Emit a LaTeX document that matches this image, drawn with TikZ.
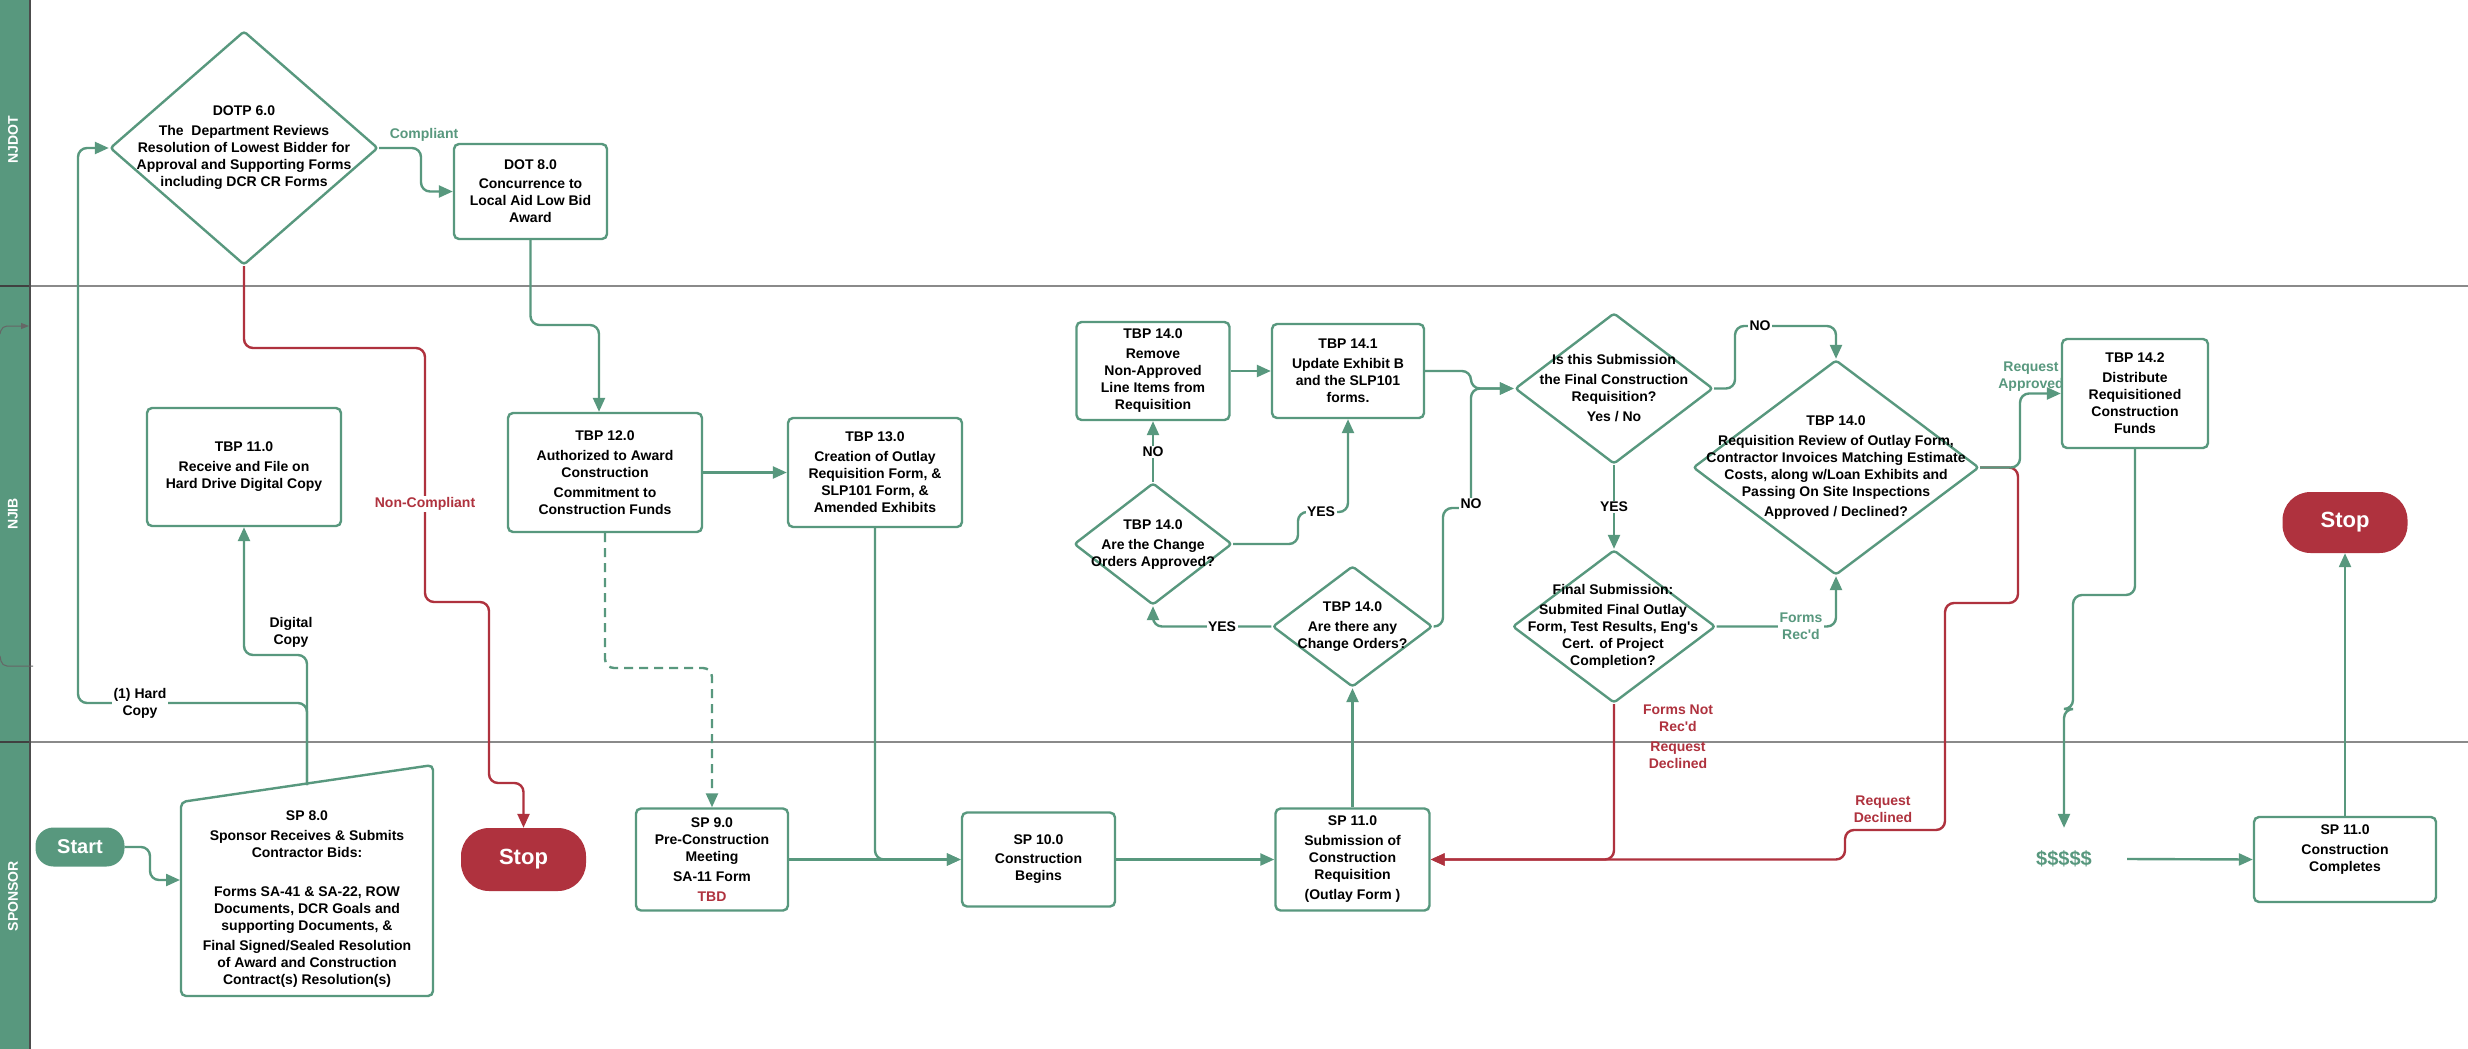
\documentclass[tikz,border=0pt]{standalone}
\usepackage{fontspec}
\setmainfont{Liberation Sans}
\usetikzlibrary{shapes.geometric,arrows.meta,calc}
\definecolor{lgreen}{HTML}{58987E}
\definecolor{lred}{HTML}{AF323E}
\definecolor{lgray}{HTML}{8A8A8A}
\newcommand{\apos}{\textquotesingle}
\begin{document}
\begin{tikzpicture}[x=1pt,y=-1pt,
  font=\fontsize{14}{17}\selectfont\bfseries,
  box/.style={draw=lgreen, line width=2.4pt, rounded corners=5pt, fill=white, align=center, inner sep=0pt, text=black},
  dia/.style={draw=lgreen, line width=2.4pt, diamond, rounded corners=3pt, inner sep=0pt, fill=white},
  txt/.style={align=center, inner sep=0pt, text=black},
  conn/.style={draw=lgreen, line width=2.4pt, rounded corners=9pt, -{Triangle[length=14pt,width=12pt]}},
  rconn/.style={draw=lred, line width=2.4pt, rounded corners=9pt, -{Triangle[length=14pt,width=12pt]}},
  lbl/.style={fill=white, inner sep=1.5pt, align=center, text=black},
  glbl/.style={inner sep=1.5pt, align=center, text=lgreen},
  rlbl/.style={inner sep=1.5pt, align=center, text=lred},
  lanelbl/.style={rotate=90, text=white, inner sep=0pt}]
\useasboundingbox (0,0) rectangle (2468,1049);
\fill[white] (0,0) rectangle (2468,1049);
% swimlanes
\fill[lgreen] (0,0) rectangle (30,1049);
\draw[lgray, line width=2pt] (0,286) -- (2468,286);
\draw[lgray, line width=2pt] (0,742) -- (2468,742);
\draw[black!75, line width=2pt] (0,286) -- (30,286);
\draw[black!75, line width=2pt] (0,742) -- (30,742);
\draw[black!70, line width=1.2pt] (30,0) -- (30,1049);
\node[lanelbl] (lane1) at (13,140) {NJDOT};
\node[lanelbl] (lane2) at (13,514) {NJIB};
\node[lanelbl] (lane3) at (13,896) {SPONSOR};
\coordinate (a1s) at (0,334);
\coordinate (a1e) at (29,326);
\draw[black!60, line width=1pt, rounded corners=5pt, -{Triangle[length=8pt,width=6pt]}] (a1s) -- (2,326) -- (a1e);
\coordinate (a2s) at (0,656);
\coordinate (a2e) at (33,666);
\draw[black!60, line width=1pt, rounded corners=5pt] (a2s) -- (2,666) -- (a2e);

% shapes
\node[dia, minimum width=268pt, minimum height=234pt] (dotp) at (244,148) {};
\node[txt] (dotpT) at (244,147.5) {DOTP 6.0\\[3pt]The\ \ Department Reviews\\Resolution of Lowest Bidder for\\Approval and Supporting Forms\\including DCR CR Forms};
\node[box, minimum width=153pt, minimum height=95pt] (dot8) at (530.5,191.5) {DOT 8.0\\[2pt]Concurrence to\\Local Aid Low Bid\\Award};
\node[box, minimum width=194pt, minimum height=118pt] (tbp11) at (244,467) {TBP 11.0\\[3pt]Receive and File on\\Hard Drive Digital Copy};
\node[box, minimum width=194pt, minimum height=119pt] (tbp12) at (605,472.5) {TBP 12.0\\[3pt]Authorized to Award\\Construction\\[3pt]Commitment to\\Construction Funds};
\node[box, minimum width=174pt, minimum height=109pt] (tbp13) at (875,472.5) {TBP 13.0\\[3pt]Creation of Outlay\\Requisition Form, \&\\SLP101 Form, \&\\Amended Exhibits};
\node[box, minimum width=153pt, minimum height=98pt] (remove) at (1153,371) {TBP 14.0\\[3pt]Remove\\Non-Approved\\Line Items from\\Requisition};
\node[box, minimum width=152pt, minimum height=94pt] (update) at (1348,371) {TBP 14.1\\[3pt]Update Exhibit B\\and the SLP101\\forms.};
\node[dia, minimum width=158pt, minimum height=122pt] (appr) at (1153,544) {};
\node[txt] (apprT) at (1153,544.5) {TBP 14.0\\[3pt]Are the Change\\Orders Approved?};
\node[dia, minimum width=160pt, minimum height=121pt] (co) at (1352.5,626.5) {};
\node[txt] (coT) at (1352.5,626.5) {TBP 14.0\\[3pt]Are there any\\Change Orders?};
\node[dia, minimum width=198pt, minimum height=151pt] (fc) at (1614,388.5) {};
\node[txt] (fcT) at (1614,388.5) {Is this Submission\\[3pt]the Final Construction\\Requisition?\\[3pt]Yes / No};
\node[dia, minimum width=203pt, minimum height=153pt] (fs) at (1614,626.5) {};
\node[txt] (fsT) at (1613,626.5) {Final Submission:\\[3pt]Submited Final Outlay\\Form, Test Results, Eng\apos s\\Cert. of Project\\Completion?};
\node[dia, minimum width=286pt, minimum height=215pt] (rr) at (1836,467.5) {};
\node[txt] (rrT) at (1836,467.5) {TBP 14.0\\[3pt]Requisition Review of Outlay Form,\\Contractor Invoices Matching Estimate\\Costs, along w/Loan Exhibits and\\Passing On Site Inspections\\[3pt]Approved / Declined?};
\node[box, minimum width=146pt, minimum height=109pt] (tbp142) at (2135,393.5) {TBP 14.2\\[3pt]Distribute\\Requisitioned\\Construction\\Funds};
\node[fill=lred, rounded corners=28pt, minimum width=125pt, minimum height=61pt, inner sep=0pt, text=white, font=\fontsize{22}{26}\selectfont\bfseries] (stopR) at (2345,522.5) {Stop};

\node[fill=lgreen, rounded corners=18pt, minimum width=89pt, minimum height=39pt, inner sep=0pt, text=white, font=\fontsize{20}{24}\selectfont\bfseries] (start) at (80,847) {Start};
\draw[draw=lgreen, line width=2.4pt, rounded corners=5pt, fill=white] (181,802) -- (433,765) -- (433,996) -- (181,996) -- cycle;
\node[txt] (sp8) at (307,899) {SP 8.0\\[3pt]Sponsor Receives \& Submits\\Contractor Bids:\\[22pt]Forms SA-41 \& SA-22, ROW\\Documents, DCR Goals and\\supporting Documents, \&\\[3pt]Final Signed/Sealed Resolution\\of Award and Construction\\Contract(s) Resolution(s)};
\coordinate (sp8top) at (307,785);
\coordinate (sp8w) at (180,880);
\node[fill=lred, rounded corners=28pt, minimum width=125pt, minimum height=63pt, inner sep=0pt, text=white, font=\fontsize{22}{26}\selectfont\bfseries] (stopL) at (523.5,859.5) {Stop};
\node[box, minimum width=152pt, minimum height=102pt] (sp9) at (712,859.5) {SP 9.0\\Pre-Construction\\Meeting\\[3pt]SA-11 Form\\[3pt]\textcolor{lred}{TBD}};
\node[box, minimum width=153pt, minimum height=94pt] (sp10) at (1038.5,859.5) {SP 10.0\\[2pt]Construction\\Begins};
\node[box, minimum width=154pt, minimum height=102pt] (sp11) at (1352.5,859.5) {SP 11.0\\[3pt]Submission of\\Construction\\Requisition\\[3pt](Outlay Form )};
\node[minimum width=126pt, minimum height=62pt, inner sep=0pt, text=lgreen, font=\fontsize{20}{24}\selectfont\bfseries] (dollars) at (2064,859) {\$\$\$\$\$};
\node[box, minimum width=182pt, minimum height=85pt] (comp) at (2345,859.5) {};
\node[txt] (compT) at (2345,849.5) {SP 11.0\\[3pt]Construction\\Completes};

% connectors
\draw[conn] (dotp.east) -- (421,148) |- (dot8.west);
\draw[conn] (dot8.south) -- (530.5,325) -- (599,325) -- ([xshift=-6pt]tbp12.north);
\draw[rconn] (dotp.south) -- (244,348) -- (425,348) -- (425,602) -- (489,602) -- (489,783) -- (523.5,783) -- (stopL.north);
\draw[conn] (start.east) -- (150,847) -- (150,880) -- (sp8w);
\draw[conn] (sp8top) -- (307,703) -- (78,703) -- (78,148) -- (dotp.west);
\draw[conn] (sp8top) -- (307,655) -| (tbp11.south);
\draw[conn] (tbp12.east) -- (tbp13.west);
\draw[conn, dash pattern=on 9pt off 6pt] (tbp12.south) -- (605,668) -| (sp9.north);
\draw[conn] (tbp13.south) |- (sp10.west);
\draw[conn] (sp9.east) -- (sp10.west);
\draw[conn] (sp10.east) -- (sp11.west);
\draw[conn] (sp11.north) -- (co.south);
\draw[conn] (co.west) -| (appr.south);
\draw[conn] (appr.north) -- (remove.south);
\draw[conn] (remove.east) -- (update.west);
\draw[conn] (appr.east) -- (1298,544) -- (1298,512) -- (1348,512) -- (update.south);
\draw[conn] (update.east) -- (1471,371) -- (1471,388.5) -- (fc.west);
\draw[conn] (co.east) -- (1443,626.5) -- (1443,508) -- (1471,508) -- (1471,388.5) -- (fc.west);
\draw[conn] (fc.south) -- (fs.north);
\draw[rconn] (fs.south) |- (sp11.east);
\draw[rconn] (rr.east) -- (2018,467.5) -- (2018,603) -- (1945,603) -- (1945,830) -- (1845,830) -- (1845,859.5) -- (sp11.east);
\draw[conn] (fs.east) -| (rr.south);
\draw[conn] (fc.east) -- (1735,388.5) -- (1735,326) -| (rr.north);
\draw[conn] (rr.east) -- (2020,467.5) -- (2020,393.5) -- (tbp142.west);
\draw[conn] (tbp142.south) -- (2135,595) -- (2073,595) -- (2073,709) -- (2064,709) -- (dollars.north);
\draw[conn] (dollars.east) -- (comp.west);
\draw[conn] (comp.north) -- (stopR.south);

% labels
\node[glbl] (lcomp) at (424,135) {Compliant};
\node[rlbl, fill=white] (lnonc) at (425,504) {Non-Compliant};
\node[txt] (ldig) at (291,632) {Digital\\Copy};
\node[lbl] (lhard) at (140,703) {(1) Hard\\Copy};
\node[lbl] (lno1) at (1153,452) {NO};
\node[lbl] (lyes1) at (1222,627) {YES};
\node[lbl] (lyes2) at (1321,512) {YES};
\node[lbl] (lno2) at (1471,504) {NO};
\node[lbl] (lyes3) at (1614,507) {YES};
\node[lbl] (lno3) at (1760,326) {NO};
\node[glbl, fill=white] (lrec) at (1801,626) {Forms\\Rec\apos d};
\node[glbl] (lappr) at (2031,376.5) {Request\\Approved};
\node[rlbl] (lfnr) at (1678,718.5) {Forms Not\\Rec\apos d};
\node[rlbl] (lrd1) at (1678,755) {Request\\Declined};
\node[rlbl] (lrd2) at (1883,809) {Request\\Declined};
\end{tikzpicture}
\end{document}
